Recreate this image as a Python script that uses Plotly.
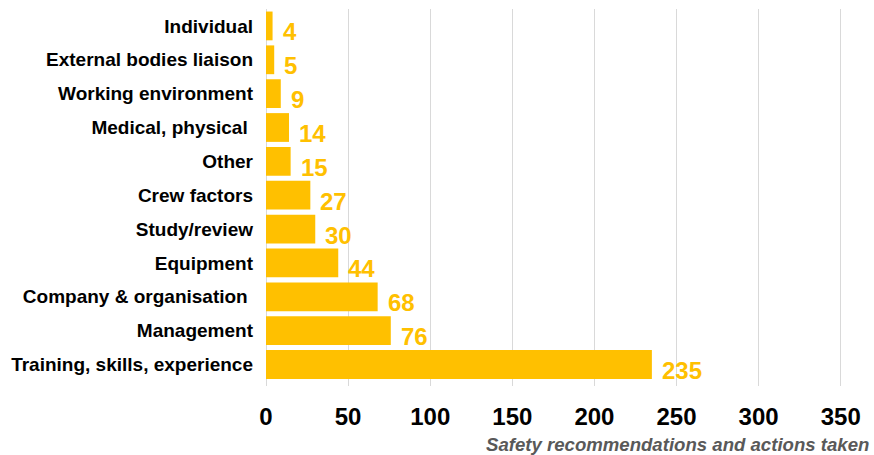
import plotly.graph_objects as go

categories = [
    "Training, skills, experience",
    "Management",
    "Company & organisation\u00a0",
    "Equipment",
    "Study/review",
    "Crew factors",
    "Other",
    "Medical, physical\u00a0",
    "Working environment",
    "External bodies liaison",
    "Individual",
]
counts = [235, 76, 68, 44, 30, 27, 15, 14, 9, 5, 4]
x_ticks = [0, 50, 100, 150, 200, 250, 300, 350]

BAR = "#FFC000"
FONT = "Liberation Sans, Arial, sans-serif"

fig = go.Figure(
    go.Bar(
        x=counts,
        y=categories,
        orientation="h",
        marker=dict(color=BAR, line=dict(width=0)),
        hoverinfo="x+y",
    )
)

# value labels to the right of each bar, sitting a little low
for cat, val in zip(categories, counts):
    fig.add_annotation(
        x=val, y=cat, xref="x", yref="y",
        text=f"<b>{val}</b>", showarrow=False,
        xanchor="left", yanchor="middle",
        xshift=8, yshift=-6,
        font=dict(family=FONT, size=24, color=BAR),
    )

fig.add_annotation(
    xref="paper", yref="paper", x=1, y=-0.156,
    xanchor="right", yanchor="middle", xshift=27,
    text="<b><i>Safety recommendations and actions taken</i></b>",
    showarrow=False,
    font=dict(family=FONT, size=18.6, color="#595959"),
)

fig.update_layout(
    width=874, height=455,
    margin=dict(l=266, r=30, t=9, b=69),
    paper_bgcolor="white", plot_bgcolor="white",
    bargap=0.15,
    showlegend=False,
    font=dict(family=FONT),
)
fig.update_xaxes(
    range=[0, 352],
    tickvals=x_ticks,
    ticktext=[f"<b>{t}</b>" for t in x_ticks],
    tickfont=dict(family=FONT, size=24, color="black"),
    showgrid=True, gridcolor="#D9D9D9", gridwidth=1,
    zeroline=True, zerolinecolor="#D9D9D9", zerolinewidth=1,
    showline=False, ticks="", ticklabelstandoff=14,
)
fig.update_yaxes(
    tickvals=categories,
    ticktext=[f"<b>{c}</b>" for c in categories],
    tickfont=dict(family=FONT, size=19, color="black"),
    showgrid=False, showline=False, ticks="",
    ticklabelstandoff=12,
)

fig.write_html("out.html")
